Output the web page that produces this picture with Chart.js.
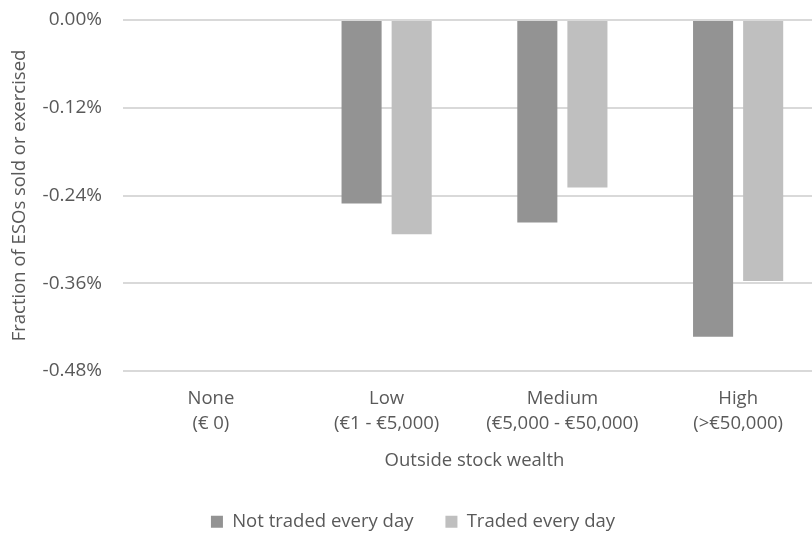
<!DOCTYPE html>
<html>
<head>
<meta charset="utf-8">
<script src="https://cdn.jsdelivr.net/npm/chart.js@4"></script>
<style>
  html, body { margin: 0; padding: 0; background: #fff; overflow: hidden; }
  .wrap { width: 826px; height: 535px; }
</style>
</head>
<body>
<div class="wrap"><canvas id="esoChart"></canvas></div>
<script>
        // Data (percent)
        const categories = [
            ['None', '(€ 0)'],
            ['Low', '(€1 - €5,000)'],
            ['Medium', '(€5,000 - €50,000)'],
            ['High', '(>€50,000)']
        ];
        const notTraded = [0, -0.251, -0.277, -0.433];
        const traded = [0, -0.293, -0.229, -0.357];
        const yTicks = [0, -0.12, -0.24, -0.36, -0.48];

        const textColor = '#595959';
        const font = { family: 'Open Sans', size: 18.5 };

        const ctx = document.getElementById('esoChart').getContext('2d');
        new Chart(ctx, {
            type: 'bar',
            data: {
                labels: categories,
                datasets: [{
                    label: 'Not traded every day',
                    data: notTraded,
                    backgroundColor: '#939393',
                    borderWidth: 0
                }, {
                    label: 'Traded every day',
                    data: traded,
                    backgroundColor: '#bfbfbf',
                    borderWidth: 0
                }]
            },
            options: {
                responsive: true,
                maintainAspectRatio: false,
                animation: false,
                categoryPercentage: 0.57,
                barPercentage: 0.8,
                layout: { padding: { top: 20, left: 0, right: 0, bottom: -6 } },
                scales: {
                    x: {
                        afterFit: axis => { axis.height = 109.5; },
                        grid: { display: false, drawTicks: false },
                        border: { display: false },
                        ticks: {
                            color: textColor,
                            font: { family: 'Open Sans', size: 18.5, lineHeight: 1.35 },
                            padding: 15,
                            maxRotation: 0,
                            autoSkip: false
                        },
                        title: {
                            display: true,
                            text: 'Outside stock wealth',
                            color: textColor,
                            font: font,
                            padding: { top: 0, bottom: 9 }
                        }
                    },
                    y: {
                        min: Math.min(...yTicks),
                        max: Math.max(...yTicks),
                        afterBuildTicks: axis => { axis.ticks = yTicks.map(v => ({ value: v })); },
                        afterFit: axis => {
                            axis.width = 123;
                            axis.paddingTop = 0;
                            axis.paddingBottom = 0;
                        },
                        grid: { color: '#d9d9d9', lineWidth: 2, drawTicks: false },
                        border: { display: false },
                        ticks: {
                            color: textColor,
                            font: { family: 'Open Sans', size: 19 },
                            padding: 21,
                            callback: v => (Math.abs(v) < 1e-9 ? 0 : v).toFixed(2) + '%'
                        },
                        title: {
                            display: true,
                            text: 'Fraction of ESOs sold or exercised',
                            color: textColor,
                            font: font,
                            padding: { top: 9, bottom: 4 }
                        }
                    }
                },
                plugins: {
                    legend: {
                        position: 'bottom',
                        labels: {
                            color: textColor,
                            font: font,
                            boxWidth: 12,
                            boxHeight: 12,
                            padding: 32
                        }
                    },
                    tooltip: { enabled: false }
                }
            }
        });
</script>
</body>
</html>
